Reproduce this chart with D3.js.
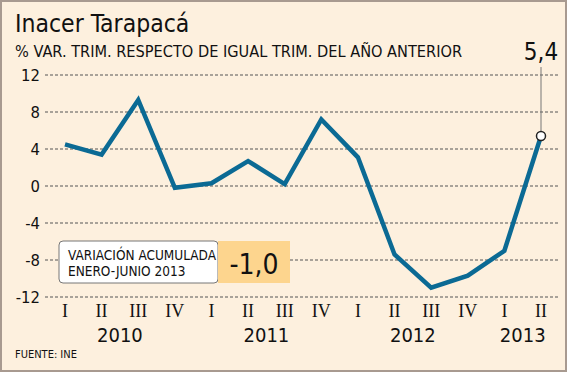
<!DOCTYPE html>
<html>
<head>
<meta charset="utf-8">
<script src="https://cdn.jsdelivr.net/npm/d3@7"></script>
<style>
  body { margin: 0; background: #fff; }
  text { font-family: "DejaVu Sans Condensed", "DejaVu Sans", sans-serif; fill: #111; }
</style>
</head>
<body>
<div id="chart"></div>
<script>
// data
let quarters = ["I", "II", "III", "IV", "I", "II", "III", "IV", "I", "II", "III", "IV", "I", "II"];
let years = ["2010", "2011", "2012", "2013"];
let values = [4.5, 3.4, 9.3, -0.2, 0.3, 2.7, 0.2, 7.2, 3.1, -7.4, -11.0, -9.7, -7.0, 5.4];
let yTicks = [12, 8, 4, 0, -4, -8, -12];

let width = 567, height = 372;

let svg = d3.select("#chart").append("svg")
    .attr("width", width)
    .attr("height", height);

svg.append("rect")
    .attr("x", 1).attr("y", 1)
    .attr("width", width - 2).attr("height", height - 2)
    .attr("fill", "#fdf0de")
    .attr("stroke", "#a89a90")
    .attr("stroke-width", 2);

svg.append("text")
    .attr("x", 15).attr("y", 32)
    .attr("font-size", 24.5)
    .text("Inacer Tarapacá");

svg.append("text")
    .attr("x", 15).attr("y", 57)
    .attr("font-size", 16.2)
    .text("% VAR. TRIM. RESPECTO DE IGUAL TRIM. DEL AÑO ANTERIOR");

let x = d3.scalePoint()
    .domain(d3.range(quarters.length))
    .range([65, 541]);

let y = d3.scaleLinear()
    .domain([-12, 12])
    .range([297, 75]);

// grid
let grid = svg.append("g");
grid.selectAll("line")
    .data(yTicks)
    .enter().append("line")
    .attr("x1", 45).attr("x2", 558)
    .attr("y1", (d)=>y(d)).attr("y2", (d)=>y(d))
    .attr("stroke", "#555")
    .attr("stroke-width", 1)
    .attr("stroke-dasharray", "3,2");

grid.selectAll("text")
    .data(yTicks)
    .enter().append("text")
    .attr("x", 40)
    .attr("y", (d)=>y(d) + 6)
    .attr("text-anchor", "end")
    .attr("font-size", 16.5)
    .text((d)=>d);

// x axis labels
svg.append("g").selectAll("text")
    .data(quarters)
    .enter().append("text")
    .attr("x", (d, i)=>x(i))
    .attr("y", 317)
    .attr("text-anchor", "middle")
    .style("font-family", "Liberation Serif, serif")
    .attr("font-size", 18)
    .text((d)=>d);

svg.append("g").selectAll("text")
    .data(years)
    .enter().append("text")
    .attr("x", (d, i)=>i < 3 ? (x(i * 4 + 1) + x(i * 4 + 2)) / 2 : (x(12) + x(13)) / 2)
    .attr("y", 342)
    .attr("text-anchor", "middle")
    .attr("font-size", 20)
    .text((d)=>d);

svg.append("text")
    .attr("x", 15).attr("y", 358)
    .attr("font-size", 11)
    .text("FUENTE: INE");

// callout box
let box = svg.append("g");
box.append("rect")
    .attr("x", 218).attr("y", 241)
    .attr("width", 72).attr("height", 42)
    .attr("fill", "#fdd58e");
box.append("rect")
    .attr("x", 59).attr("y", 241)
    .attr("width", 159).attr("height", 42)
    .attr("rx", 4)
    .attr("fill", "#fff")
    .attr("stroke", "#777")
    .attr("stroke-width", 1);
box.append("rect")
    .attr("x", 218).attr("y", 241)
    .attr("width", 8).attr("height", 42)
    .attr("fill", "#fdd58e");
box.append("text")
    .attr("x", 68).attr("y", 260)
    .attr("font-size", 13.5)
    .text("VARIACIÓN ACUMULADA");
box.append("text")
    .attr("x", 68).attr("y", 276)
    .attr("font-size", 13.5)
    .text("ENERO-JUNIO 2013");
box.append("text")
    .attr("x", 254).attr("y", 274)
    .attr("text-anchor", "middle")
    .attr("font-size", 28)
    .text("-1,0");

// line
let line = d3.line()
    .x((d, i)=>x(i))
    .y((d)=>y(d));

svg.append("path")
    .datum(values)
    .attr("d", line)
    .attr("fill", "none")
    .attr("stroke", "#0b6a94")
    .attr("stroke-width", 4.5)
    .attr("stroke-linejoin", "miter");

// last value annotation
let last = values.length - 1;
svg.append("line")
    .attr("x1", x(last)).attr("x2", x(last))
    .attr("y1", 67).attr("y2", y(values[last]))
    .attr("stroke", "#777")
    .attr("stroke-width", 1);

svg.append("circle")
    .attr("cx", x(last)).attr("cy", y(values[last]))
    .attr("r", 4.5)
    .attr("fill", "#fff")
    .attr("stroke", "#222")
    .attr("stroke-width", 1.5);

svg.append("text")
    .attr("x", x(last)).attr("y", 60)
    .attr("text-anchor", "middle")
    .attr("font-size", 24)
    .text("5,4");
</script>
</body>
</html>
